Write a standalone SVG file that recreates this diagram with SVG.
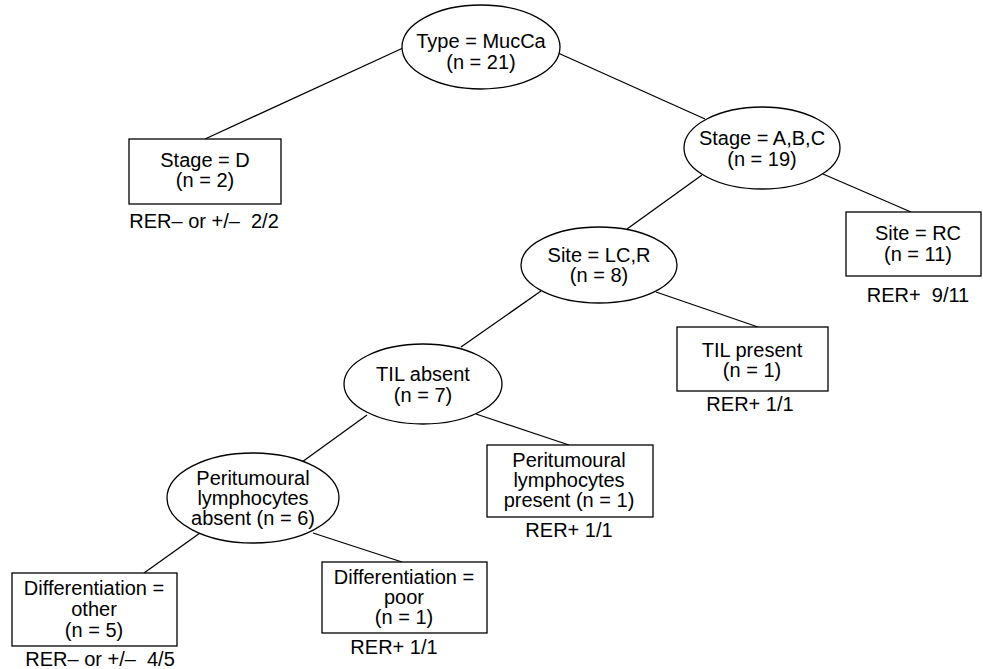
<svg xmlns="http://www.w3.org/2000/svg" width="983" height="669" viewBox="0 0 983 669">
<style>
.n{fill:#fff;stroke:#000;stroke-width:1.3}
.e line{stroke:#000;stroke-width:1.3}
text{font-family:"Liberation Sans",Arial,sans-serif;font-size:20px;fill:#000;text-anchor:middle;white-space:pre}
</style>
<rect width="983" height="669" fill="#fff"/>
<g id="edges" class="e">
<line x1="403" y1="48" x2="205" y2="139"/>
<line x1="558" y1="53" x2="705" y2="119"/>
<line x1="823" y1="174" x2="911" y2="212"/>
<line x1="702" y1="175" x2="627" y2="229"/>
<line x1="656" y1="292" x2="758" y2="327"/>
<line x1="541" y1="291" x2="461" y2="347"/>
<line x1="476" y1="414" x2="569" y2="445"/>
<line x1="367" y1="415" x2="302" y2="462"/>
<line x1="200" y1="533" x2="144" y2="573"/>
<line x1="313" y1="533" x2="402" y2="562"/>
</g>
<g id="root">
<ellipse class="n" cx="481" cy="47" rx="79" ry="42"/>
<text x="481" y="48">Type = MucCa</text>
<text x="481" y="69">(n = 21)</text>
</g>
<g id="stageD">
<rect class="n" x="129" y="139" width="152" height="65"/>
<text x="205" y="167">Stage = D</text>
<text x="205" y="187">(n = 2)</text>
<text x="204" y="228">RER– or +/–  2/2</text>
</g>
<g id="stageABC">
<ellipse class="n" cx="762" cy="148" rx="78" ry="41"/>
<text x="762" y="145">Stage = A,B,C</text>
<text x="762" y="166">(n = 19)</text>
</g>
<g id="siteRC">
<rect class="n" x="846" y="212" width="135" height="64"/>
<text x="918" y="240">Site = RC</text>
<text x="918" y="261">(n = 11)</text>
<text x="918" y="302">RER+  9/11</text>
</g>
<g id="siteLCR">
<ellipse class="n" cx="599" cy="265" rx="78" ry="38"/>
<text x="599" y="262">Site = LC,R</text>
<text x="599" y="282">(n = 8)</text>
</g>
<g id="tilPresent">
<rect class="n" x="677" y="327" width="151" height="64"/>
<text x="752" y="357">TIL present</text>
<text x="752" y="377">(n = 1)</text>
<text x="750" y="411">RER+ 1/1</text>
</g>
<g id="tilAbsent">
<ellipse class="n" cx="423" cy="384" rx="79" ry="40"/>
<text x="423" y="381">TIL absent</text>
<text x="423" y="402">(n = 7)</text>
</g>
<g id="pliPresent">
<rect class="n" x="487" y="445" width="166" height="72"/>
<text x="569" y="467">Peritumoural</text>
<text x="569" y="487">lymphocytes</text>
<text x="569" y="507">present (n = 1)</text>
<text x="569" y="537">RER+ 1/1</text>
</g>
<g id="pliAbsent">
<ellipse class="n" cx="253" cy="498" rx="86" ry="45"/>
<text x="253" y="485">Peritumoural</text>
<text x="253" y="505">lymphocytes</text>
<text x="253" y="525">absent (n = 6)</text>
</g>
<g id="diffOther">
<rect class="n" x="12" y="573" width="165" height="73"/>
<text x="94" y="595">Differentiation =</text>
<text x="94" y="616">other</text>
<text x="94" y="637">(n = 5)</text>
<text x="100" y="666">RER– or +/–  4/5</text>
</g>
<g id="diffPoor">
<rect class="n" x="322" y="562" width="165" height="71"/>
<text x="404" y="584">Differentiation =</text>
<text x="404" y="604">poor</text>
<text x="404" y="624">(n = 1)</text>
<text x="394" y="654">RER+ 1/1</text>
</g>
</svg>
